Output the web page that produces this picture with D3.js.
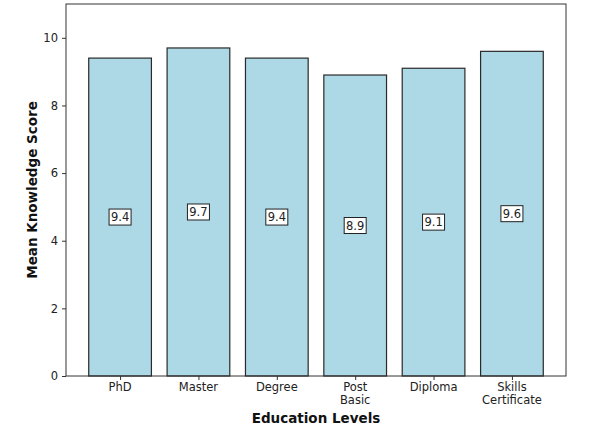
<!DOCTYPE html>
<html><head><meta charset="utf-8">
<script src="https://cdn.jsdelivr.net/npm/d3@7"></script>
<style>body{margin:0;background:#fff}svg{display:block}text{font-family:"DejaVu Sans",sans-serif}</style>
</head><body><svg id="c" width="602" height="437"></svg>
<script>
const categories = ["PhD","Master","Degree","Post\nBasic","Diploma","Skills\nCertificate"];
const values = [9.4,9.7,9.4,8.9,9.1,9.6];
const yTicks = [0,2,4,6,8,10];

const svg = d3.select("#c");
const L=66,R=566,T=4,B=376;
const x = d3.scaleLinear().domain([-0.69,5.69]).range([L,R]);
const y = d3.scaleLinear().domain([0,11]).range([B,T]);
const bw = x(0.4)-x(-0.4);

svg.selectAll("rect.bar").data(values).join("rect").attr("class","bar")
  .attr("x",(d,i)=>x(i)-bw/2).attr("width",bw)
  .attr("y",d=>y(d)).attr("height",d=>B-y(d))
  .attr("fill","#add8e6").attr("stroke","#2a2a2a").attr("stroke-width",1.2);

// value labels
const lab = svg.selectAll("g.lab").data(values).join("g").attr("class","lab")
  .attr("transform",(d,i)=>`translate(${x(i)},${y(d/2)})`);
lab.append("rect").attr("x",-11).attr("y",-8).attr("width",22).attr("height",16)
  .attr("fill","#fff").attr("stroke","#222").attr("stroke-width",1);
lab.append("text").attr("text-anchor","middle").attr("dy","0.35em")
  .attr("font-size",11.5).attr("fill","#222").text(d=>d.toFixed(1));

// frame
svg.append("rect").attr("x",L).attr("y",T).attr("width",R-L).attr("height",B-T)
  .attr("fill","none").attr("stroke","#333").attr("stroke-width",1);

// y axis
const ya = svg.append("g").attr("transform",`translate(${L},0)`)
  .call(d3.axisLeft(y).tickValues(yTicks).tickSize(4).tickPadding(4).tickFormat(d3.format("d")));
ya.select(".domain").remove();
ya.selectAll("line").attr("stroke","#333");
ya.selectAll("text").attr("font-size",11.5).attr("fill","#222").style("font-family","DejaVu Sans");

// x axis
const xa = svg.append("g").attr("transform",`translate(0,${B})`)
  .call(d3.axisBottom(x).tickValues(d3.range(categories.length)).tickSize(4).tickPadding(4).tickFormat(""));
xa.select(".domain").remove();
xa.selectAll("line").attr("stroke","#333");
categories.forEach((c,i)=>{
  const t = svg.append("text").attr("x",x(i)).attr("y",B+15).attr("text-anchor","middle")
    .attr("font-size",11.5).attr("fill","#222");
  c.split("\n").forEach((s,j)=>t.append("tspan").attr("x",x(i)).attr("dy",j?13:0).text(s));
});

svg.append("text").attr("x",(L+R)/2).attr("y",423).attr("text-anchor","middle")
  .attr("font-size",13.5).attr("font-weight","bold").attr("fill","#111").text("Education Levels");
svg.append("text").attr("transform",`translate(37,${(T+B)/2}) rotate(-90)`).attr("text-anchor","middle")
  .attr("font-size",13.5).attr("font-weight","bold").attr("fill","#111").text("Mean Knowledge Score");
</script></body></html>
